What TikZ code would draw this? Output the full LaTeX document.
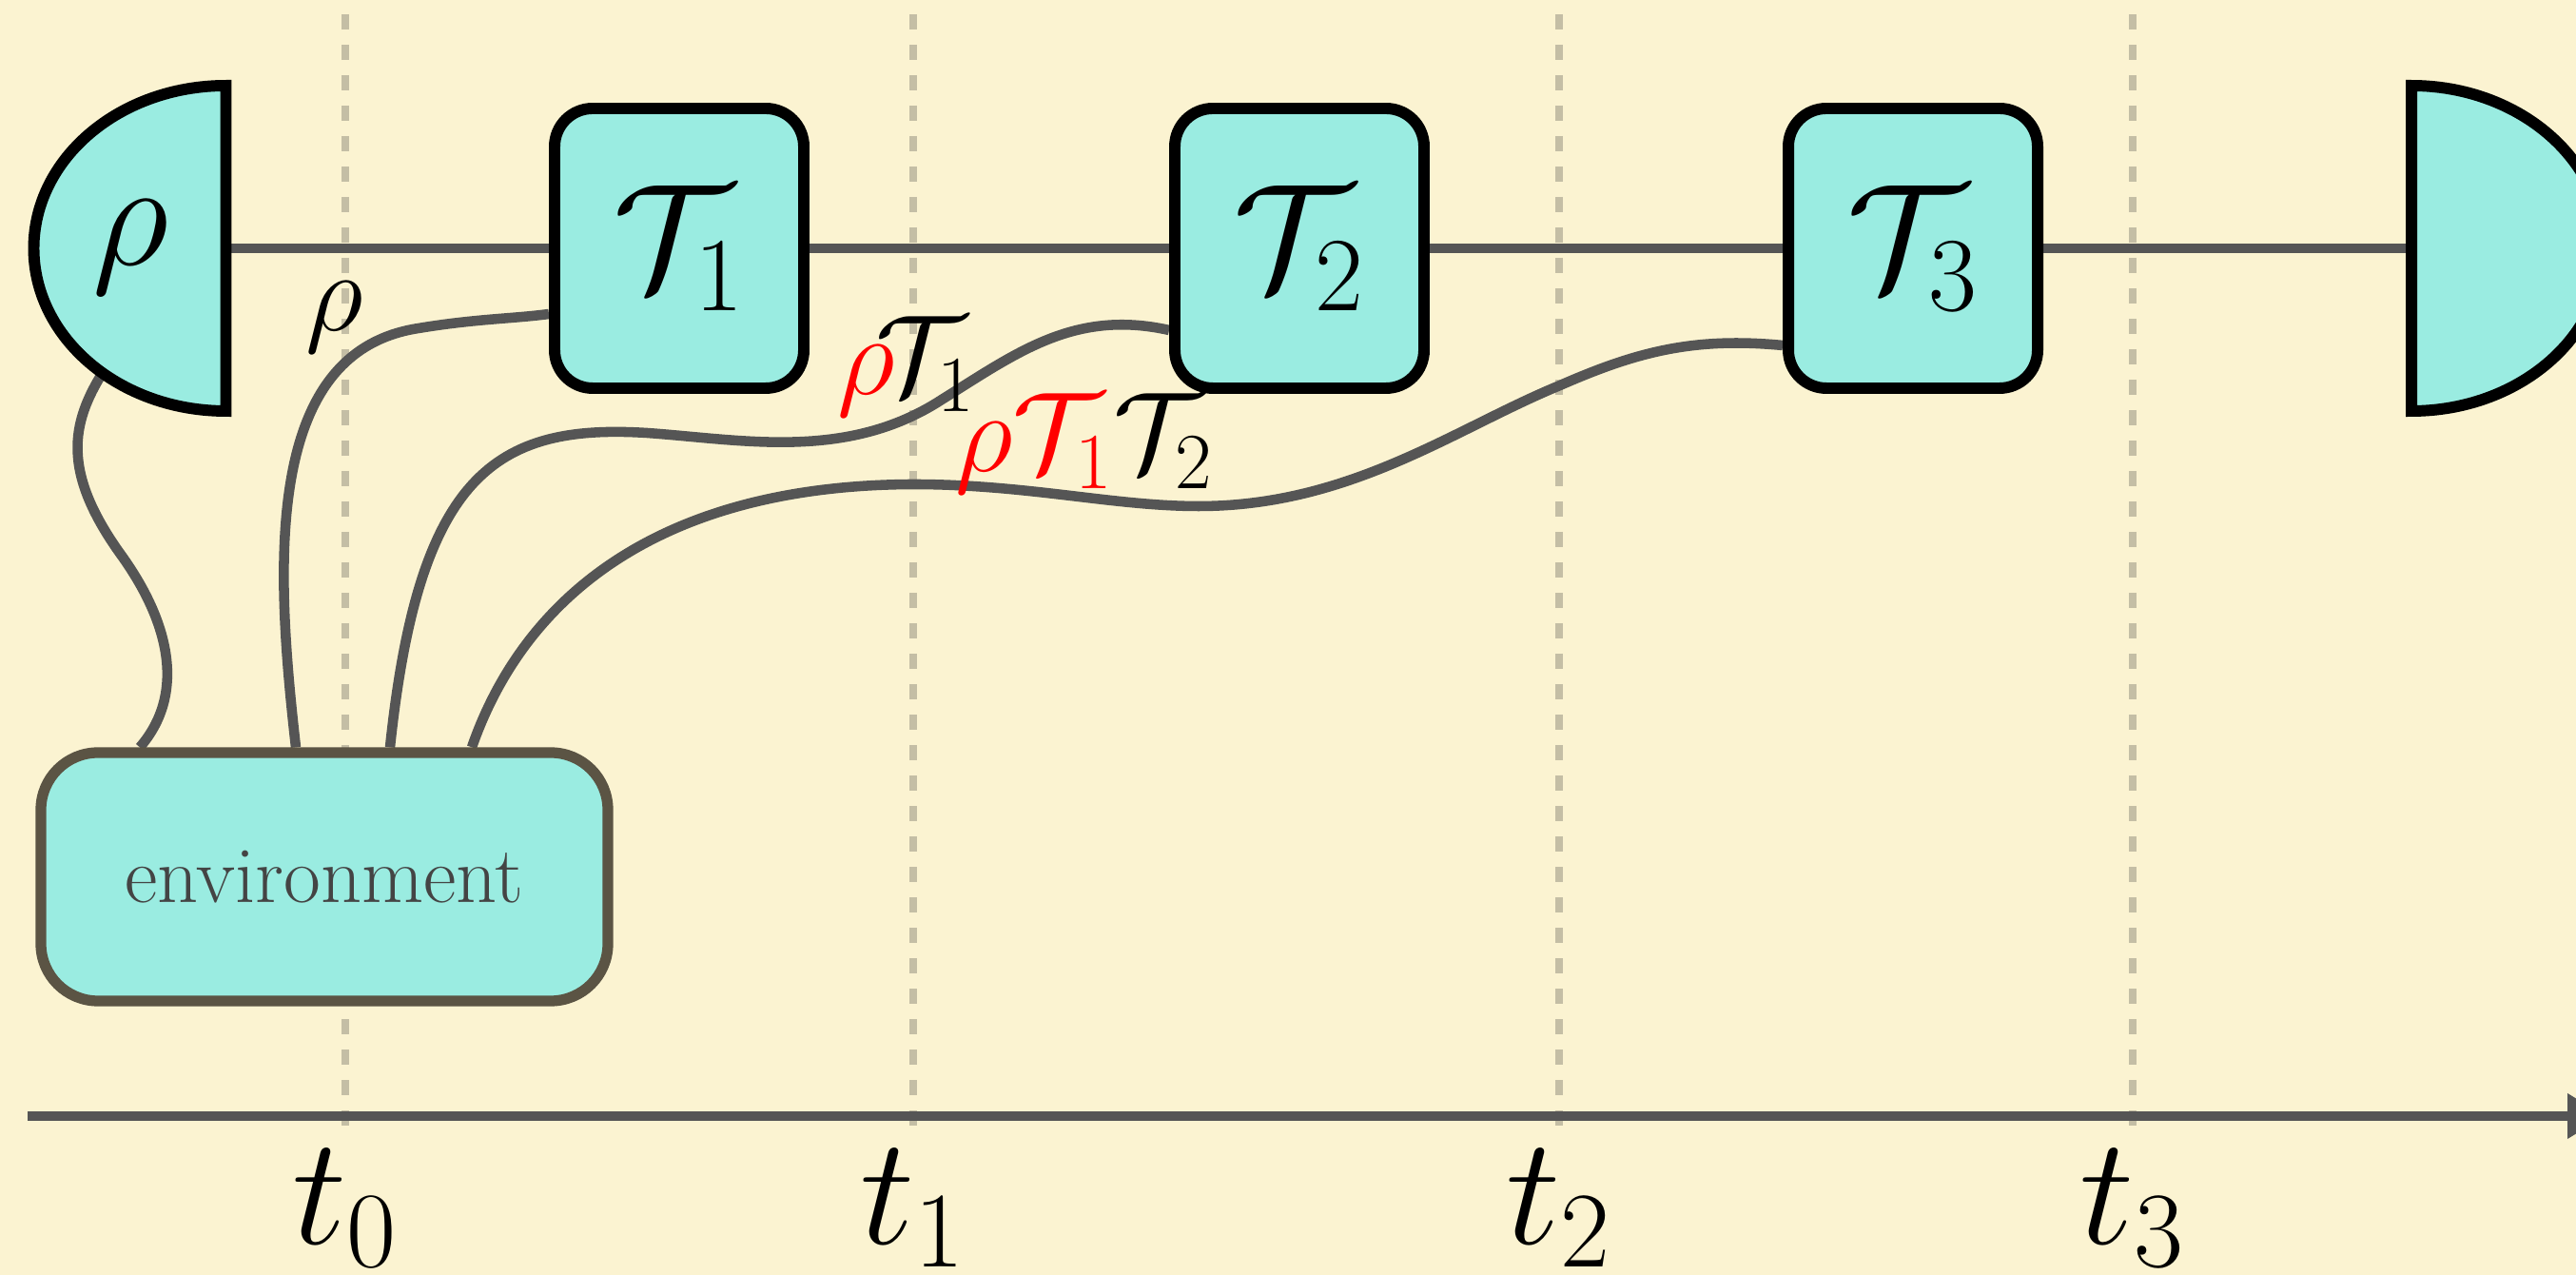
\RequirePackage{fix-cm}
\documentclass[tikz,border=0pt]{standalone}
\usepackage{amsmath}
\usepackage{xcolor}
\usetikzlibrary{arrows.meta,positioning}
\pgfdeclarelayer{back}
\pgfdeclarelayer{wire}
\pgfsetlayers{back,wire,main}
\definecolor{cream}{HTML}{FBF3D1}
\definecolor{aqua}{HTML}{9AECE1}
\definecolor{wiregray}{HTML}{555555}
\definecolor{tickgray}{HTML}{C4BEA5}
\definecolor{envbrown}{HTML}{5B5444}
\definecolor{envtext}{HTML}{444444}

\begin{document}
\begin{tikzpicture}[
gate/.style={draw=black,fill=aqua,line width=3.4pt,rounded corners=0.4cm,minimum width=2.62cm,minimum height=2.94cm,font=\fontsize{45}{54}\selectfont},
envbox/.style={draw=envbrown,fill=aqua,line width=3.2pt,rounded corners=0.6cm,minimum width=5.96cm,minimum height=2.61cm,text=envtext,font=\fontsize{24}{28}\selectfont},
disc/.style={draw=black,fill=aqua,line width=3.4pt},
wire/.style={draw=wiregray,line width=3pt},
axis/.style={draw=wiregray,line width=3pt,-{Triangle[length=0.4cm,width=0.45cm]}},
tick/.style={draw=tickgray,line width=2.3pt,dash pattern=on 0.16cm off 0.16cm},
lab/.style={inner sep=0pt,font=\fontsize{34}{40}\selectfont},
tlab/.style={inner sep=0pt,font=\fontsize{46}{54}\selectfont}
]
\useasboundingbox (0,0) rectangle (27.08,13.4);
\begin{pgfonlayer}{back}
\fill[cream] (0,0) rectangle (27.08,13.4);
\foreach \x in {3.63,9.60,16.39,22.42}
  \draw[tick] (\x,13.25) -- (\x,1.55);
\end{pgfonlayer}

% preparation and measurement
\coordinate (prep) at (2.375,10.79);
\coordinate (meas) at (25.35,10.79);
\draw[disc] (2.375,12.5) arc[start angle=90,end angle=270,x radius=2.02,y radius=1.71] -- cycle;
\draw[disc] (25.35,12.5) arc[start angle=90,end angle=-90,x radius=2.02,y radius=1.71] -- cycle;
\node[font=\fontsize{45}{54}\selectfont] (rho) at (1.37,10.8) {$\rho$};

% operations
\node[gate] (T1) at (7.14,10.79) {$\mathcal{T}_1$};
\node[gate] (T2) at (13.66,10.79) {$\mathcal{T}_2$};
\node[gate] (T3) at (20.11,10.79) {$\mathcal{T}_3$};
\node[envbox] (env) at (3.41,4.185) {environment};

\begin{pgfonlayer}{wire}
\draw[wire] (prep) -- (T1.west);
\draw[wire] (T1.east) -- (T2.west);
\draw[wire] (T2.east) -- (T3.west);
\draw[wire] (T3.east) -- (meas);
\draw[wire] ([shift={(230:2.02 and 1.71)}]prep) .. controls (0.75,8.95) and (0.65,8.45) .. (1.25,7.6)
  .. controls (1.8,6.85) and (1.95,6.1) .. ([xshift=-1.94cm]env.north);
\draw[wire] ([xshift=-0.30cm]env.north) .. controls (2.9,7.4) and (2.75,9.7) .. (4.4,9.95)
  .. controls (5.0,10.05) and (5.4,10.05) .. ([yshift=-0.69cm]T1.west);
\draw[wire] ([xshift=0.69cm]env.north) .. controls (4.4,8.4) and (5.2,8.95) .. (6.8,8.85)
  .. controls (7.8,8.78) and (8.9,8.55) .. (9.9,9.2)
  .. controls (10.7,9.7) and (11.3,10.15) .. ([yshift=-0.86cm]T2.west);
\draw[wire] ([xshift=1.55cm]env.north) .. controls (5.5,7.1) and (6.9,8.3) .. (9.6,8.31)
  .. controls (10.8,8.31) and (11.7,8.08) .. (12.6,8.08)
  .. controls (14.2,8.08) and (15.3,8.9) .. (16.4,9.35)
  .. controls (17.2,9.7) and (17.8,9.86) .. ([yshift=-1.02cm]T3.west);
\end{pgfonlayer}

% wire labels
\node[lab] (lrho) at (3.52,10.07) {$\rho$};
\node[lab] (lT1) at (9.53,9.55) {$\textcolor{red}{\rho}\!\mathcal{T}_1$};
\node[lab] (lT2) at (11.40,8.74) {$\textcolor{red}{\rho\mathcal{T}_1}\mathcal{T}_2$};

% time axis
\coordinate (ax0) at (0.29,1.67);
\coordinate (ax1) at (27.39,1.67);
\draw[axis] (ax0) -- (ax1);
\foreach \x/\i in {3.63/0,9.60/1,16.39/2,22.42/3}
  \node[tlab] (t\i) at (\x,0.70) {$t_{\i}$};
\end{tikzpicture}
\end{document}
